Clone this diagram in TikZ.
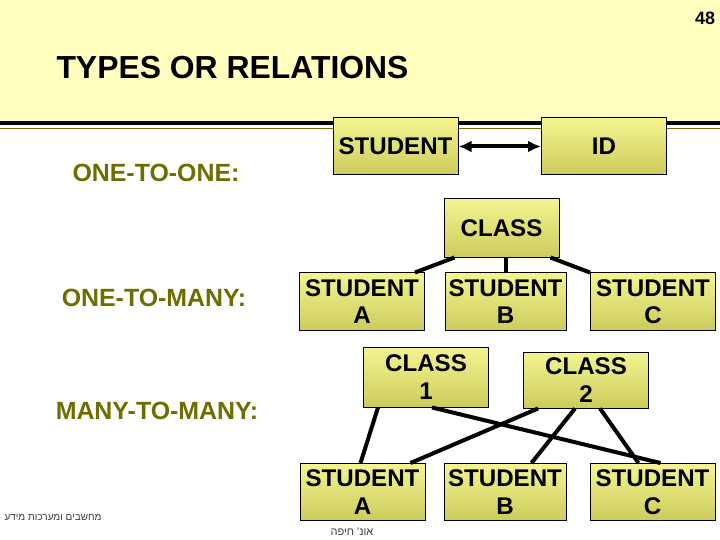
\documentclass[tikz,border=0pt]{standalone}
\usepackage{fontspec}
\setmainfont{Liberation Sans}
\newfontfamily\hebfont[Script=Hebrew]{Liberation Sans}
\TeXXeTstate=1
\usetikzlibrary{arrows.meta,calc}
\definecolor{sav}{RGB}{255,255,192}
\definecolor{oliva}{RGB}{110,110,0}
\definecolor{dobfent}{RGB}{244,244,146}
\definecolor{doblent}{RGB}{204,204,92}
\definecolor{szurke}{RGB}{60,60,60}
\tikzset{
  ent/.style={draw,line width=1bp,top color=dobfent,bottom color=doblent,
    minimum width=125bp,minimum height=57bp,inner sep=0pt,align=center,
    font=\fontsize{24.2}{27.5}\selectfont\bfseries},
  cim/.style={text=oliva,font=\fontsize{25}{28}\selectfont\bfseries},
  kapcs/.style={line width=4bp},
  nyil/.style={{Latex[length=13bp,width=12bp]}-{Latex[length=13bp,width=12bp]},line width=4bp},
  heb/.style={text=szurke,font=\hebfont\fontsize{10}{12}\selectfont},
}
\begin{document}
\begin{tikzpicture}[x=1bp,y=-1bp]
  \useasboundingbox (0,0) rectangle (720,540);
  \fill[white] (0,0) rectangle (720,540);
  \fill[sav] (0,0) rectangle (720,121);
  \draw[line width=4bp] (0,123) -- (720,123);
  \draw[oliva,line width=1bp] (0,129) -- (720,129);

  \node[font=\fontsize{18}{20}\selectfont\bfseries] (lap) at (705,18) {48};
  \node[anchor=west,font=\fontsize{32}{35}\selectfont\bfseries] (fejl) at (53,68) {TYPES OR RELATIONS};

  \node[cim] (oo) at (156,173) {ONE-TO-ONE:};
  \node[cim] (om) at (154,298) {ONE-TO-MANY:};
  \node[cim] (mm) at (157,411) {MANY-TO-MANY:};

  % one-to-one
  \node[ent] (stu) at (395.5,146.5) {STUDENT};
  \node[ent] (id) at (604,146.5) {ID};
  \draw[nyil] (stu) -- (id);

  % one-to-many
  \node[ent,minimum width=115bp,minimum height=58bp] (cls) at (501.5,228) {CLASS};
  \node[ent] (sa) at (362,301.5) {STUDENT\\A};
  \node[ent,minimum width=121bp] (sb) at (505.5,301.5) {STUDENT\\B};
  \node[ent] (sc) at (653,301.5) {STUDENT\\C};
  \draw[kapcs] ($(cls.south west)+(11,0)$) -- ($(sa.north east)+(-10,0)$);
  \draw[kapcs] (sb.north |- cls.south) -- (sb.north);
  \draw[kapcs] ($(cls.south east)+(-9,0)$) -- (sc.north west);

  % many-to-many
  \node[ent,minimum height=60bp] (c1) at (426,377) {CLASS\\1};
  \node[ent,minimum height=56bp] (c2) at (586,380) {CLASS\\2};
  \node[ent] (ma) at (362.5,492) {STUDENT\\A};
  \node[ent,minimum width=122bp] (mb) at (505,492) {STUDENT\\B};
  \node[ent] (mc) at (652.5,492) {STUDENT\\C};
  \draw[kapcs] ($(c1.south west)+(15,0)$) -- ($(ma.north west)+(61,0)$);
  \draw[kapcs] ($(c1.south west)+(69,0)$) -- ($(mc.north west)+(71,0)$);
  \draw[kapcs] ($(c2.south west)+(15,0)$) -- ($(ma.north west)+(111,0)$);
  \draw[kapcs] ($(c2.south west)+(52,0)$) -- ($(mb.north west)+(88,0)$);
  \draw[kapcs] ($(c2.south west)+(77,0)$) -- ($(mc.north west)+(49,0)$);

  \node[heb] (tsz) at (53,518) {\beginR מחשבים ומערכות מידע\endR};
  \node[heb,font=\hebfont\fontsize{11}{13}\selectfont] (egy) at (352,532) {\beginR אונ' חיפה\endR};
\end{tikzpicture}
\end{document}
